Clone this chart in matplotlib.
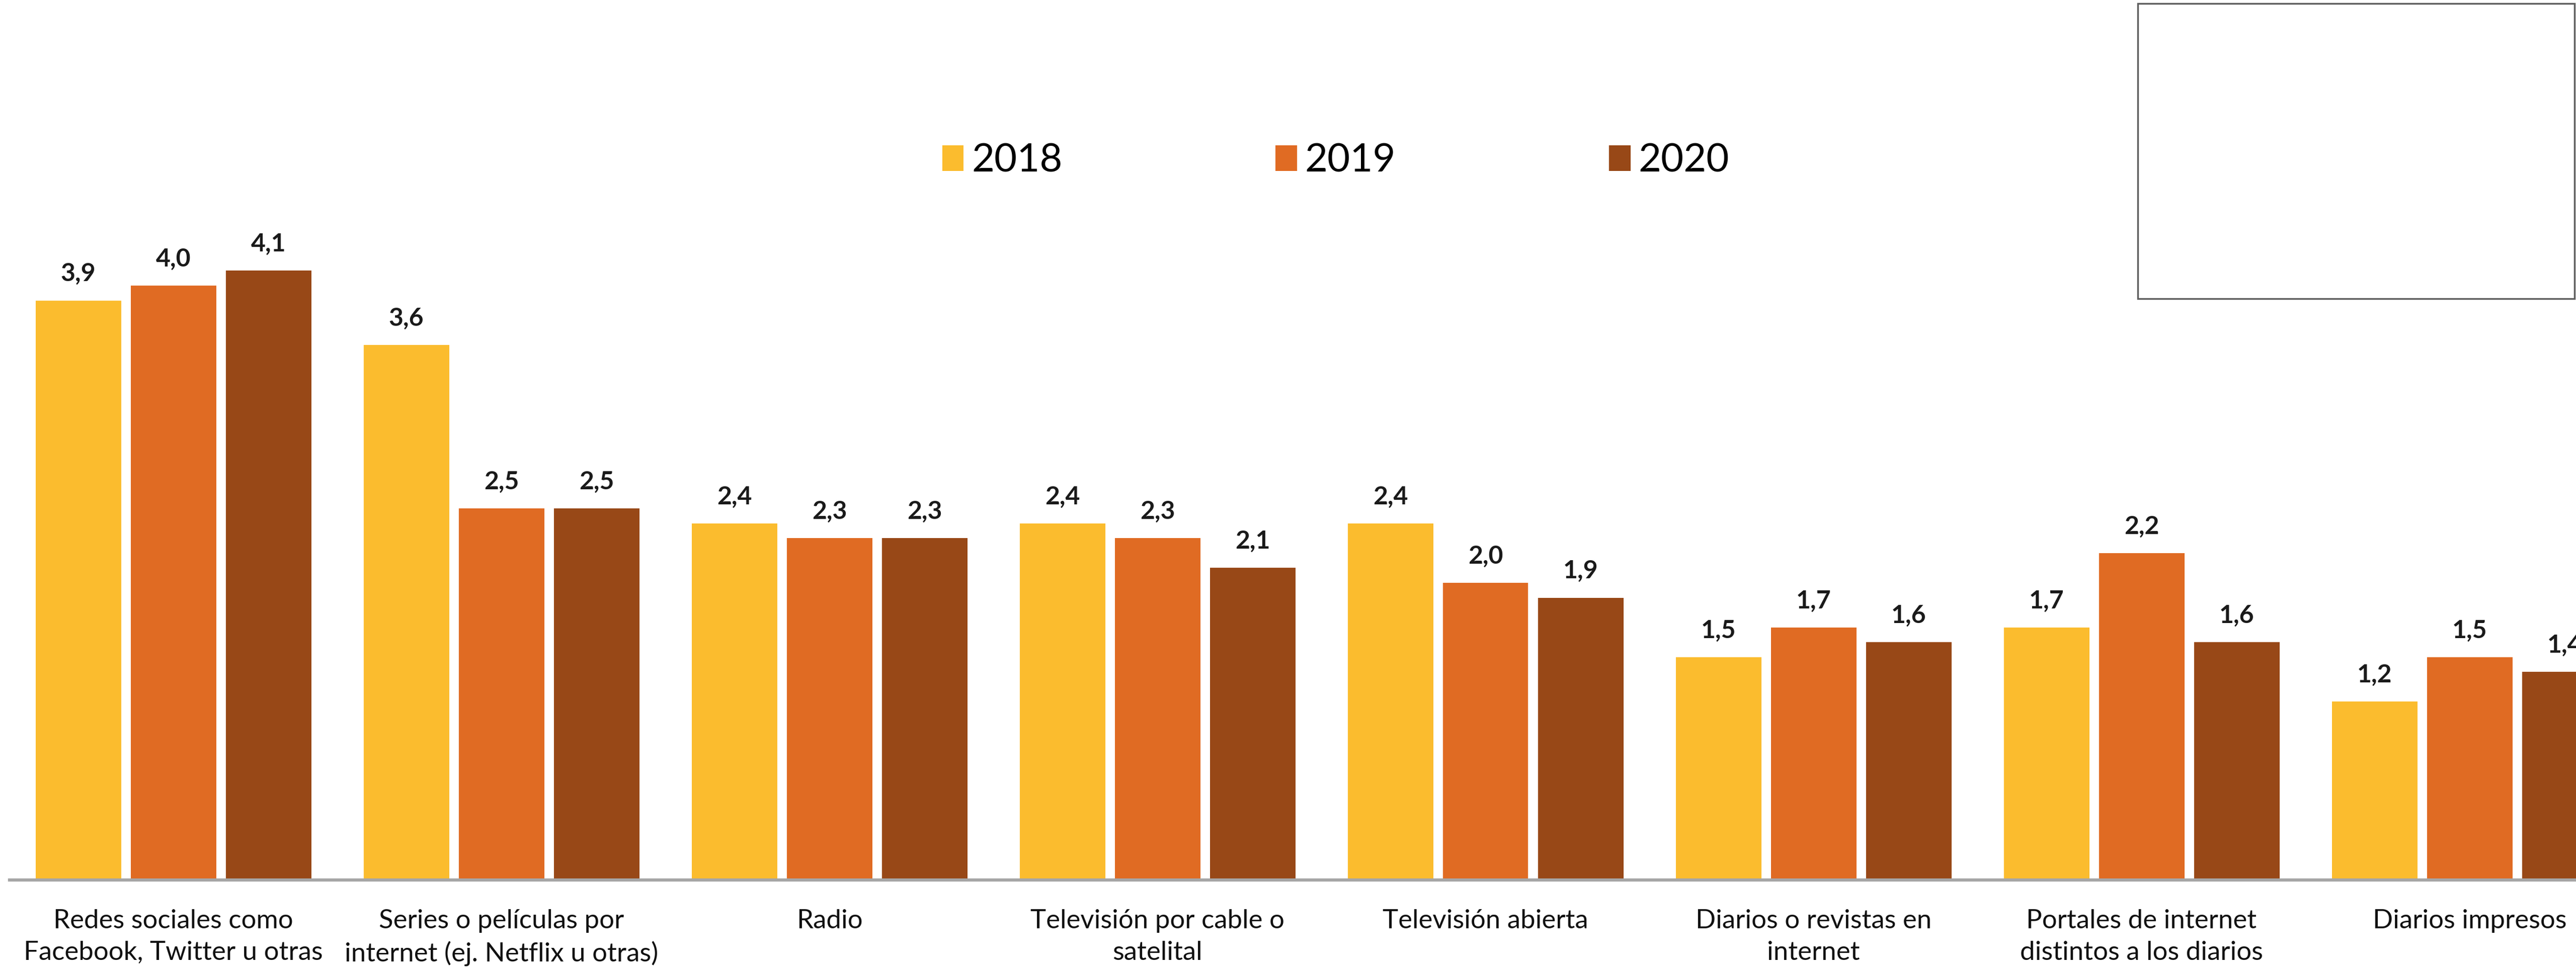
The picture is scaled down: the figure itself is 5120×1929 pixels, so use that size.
import matplotlib
matplotlib.use("Agg")
import matplotlib.pyplot as plt
from matplotlib.patches import Rectangle
import numpy as np

categories = [
    "Redes sociales como\nFacebook, Twitter u otras",
    "Series o películas por\ninternet (ej. Netflix u otras)",
    "Radio",
    "Televisión por cable o\nsatelital",
    "Televisión abierta",
    "Diarios o revistas en\ninternet",
    "Portales de internet\ndistintos a los diarios",
    "Diarios impresos",
]
years = ["2018", "2019", "2020"]
values_2018 = [3.9, 3.6, 2.4, 2.4, 2.4, 1.5, 1.7, 1.2]
values_2019 = [4.0, 2.5, 2.3, 2.3, 2.0, 1.7, 2.2, 1.5]
values_2020 = [4.1, 2.5, 2.3, 2.1, 1.9, 1.6, 1.6, 1.4]
colors = ["#FBBC2E", "#E06B23", "#984817"]

W, H, DPI = 5120, 1929, 100
fig = plt.figure(figsize=(W / DPI, H / DPI), dpi=DPI)
fig.patch.set_facecolor("white")

left_px, base_px = 18.5, 1750
ymax = 4.5
px_per_unit = 295.5
ax = fig.add_axes([left_px / W, (H - base_px) / H, 1 - left_px / W,
                   ymax * px_per_unit / H])
ax.set_ylim(0, ymax)
pitch_px = 652.0
center0_px = 344.5
ax.set_xlim(-0.5, (W - center0_px) / pitch_px)

x = np.arange(len(categories))
bar_w = 170 / pitch_px
offset = 189 / pitch_px
series = [values_2018, values_2019, values_2020]
for k, (vals, col, yr) in enumerate(zip(series, colors, years)):
    pos = x + (k - 1) * offset
    ax.bar(pos, vals, width=bar_w, color=col, label=yr, zorder=2)
    for xi, v in zip(pos, vals):
        ax.annotate(f"{v:.1f}".replace(".", ","), (xi, v),
                    xytext=(0, 38), textcoords="offset points",
                    ha="center", va="center", fontsize=36,
                    fontweight="bold", family="Lato", color="#1a1a1a",
                    annotation_clip=False)

for s in ["top", "right", "left"]:
    ax.spines[s].set_visible(False)
ax.spines["bottom"].set_color("#A6A6A6")
ax.spines["bottom"].set_linewidth(4.5)
ax.spines["bottom"].set_zorder(3)
ax.set_yticks([])
ax.set_xticks(x)
ax.set_xticklabels(categories, fontsize=38, family="Lato", color="#111111",
                   linespacing=1.4)
ax.tick_params(axis="x", length=0, pad=42)
ax.patch.set_alpha(0)

handles, labels = ax.get_legend_handles_labels()
fig.legend(handles, labels, loc="center", bbox_to_anchor=(0.5185, 0.834),
           ncol=3, frameon=False, prop={"family": "Lato", "size": 56},
           handlelength=0.55, handleheight=0.62, handletextpad=0.2,
           columnspacing=5.45, borderpad=0)

# empty framed box in the upper right corner
fig.patches.append(Rectangle((4249 / W, 1 - 594 / H), (5117 - 4249) / W,
                             (594 - 7) / H, transform=fig.transFigure,
                             fill=False, edgecolor="#5F5F5F", linewidth=2.5))

fig.savefig("out.png", dpi=DPI, facecolor="white")
